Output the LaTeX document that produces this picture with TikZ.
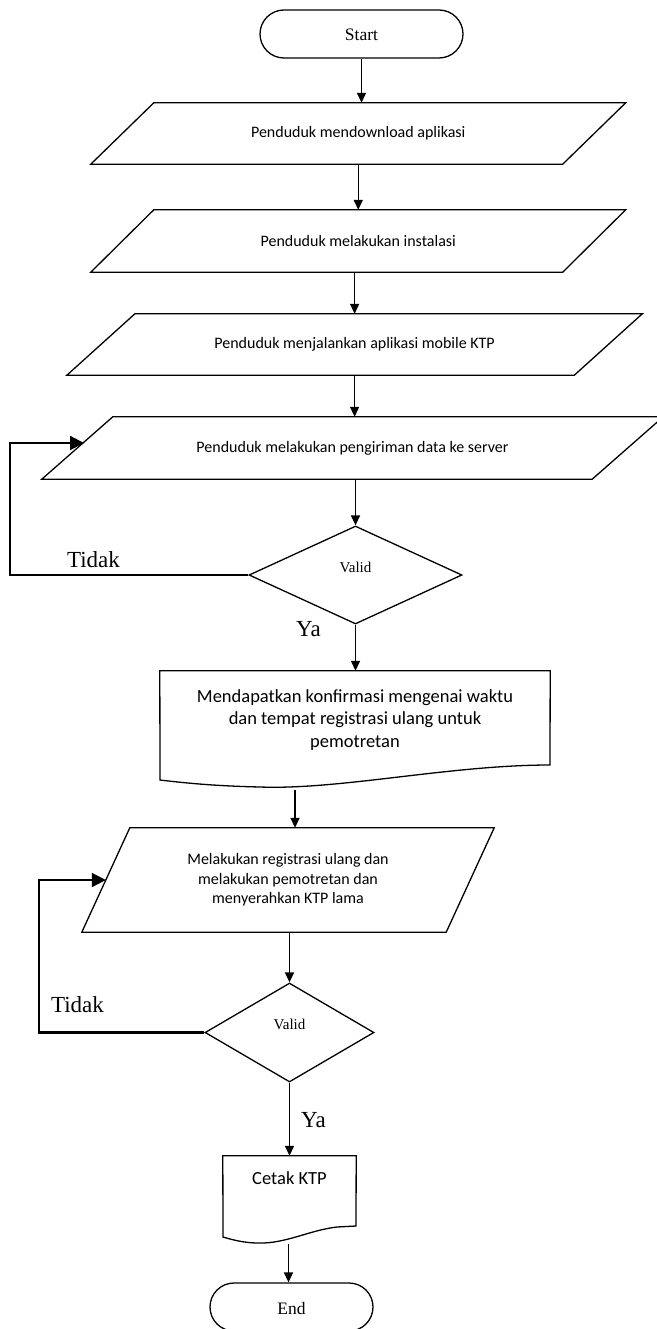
\documentclass[tikz,border=0pt]{standalone}
\usepackage{fontspec}
\setmainfont{Liberation Serif}
\newfontfamily\carlito{Carlito}
\usetikzlibrary{shapes.geometric,shapes.misc,arrows.meta,calc}
\newcommand{\ioframe}[2]{\draw[box] ($(#1.north west)+(#2,0)$) -- ($(#1.north east)+(#2,0)$) -- ($(#1.south east)+(-#2,0)$) -- ($(#1.south west)+(-#2,0)$) -- cycle;}

\begin{document}
\begin{tikzpicture}[x=1pt,y=-1pt,
    every node/.style={inner sep=0pt},
    box/.style={line width=1.3pt},
    term/.style={rounded rectangle,draw,box,minimum height=48pt,font=\fontsize{17.5}{20}\selectfont,text height=16pt,text depth=2pt},
    io/.style={align=center,font={\carlito\fontsize{16}{19.5}\selectfont}},
    decision/.style={diamond,draw,box,font=\fontsize{15}{18}\selectfont,text height=11pt,text depth=17pt},
    docbox/.style={align=center,font={\carlito\fontsize{18.5}{22.5}\selectfont}},
    lbl/.style={font=\fontsize{23}{27}\selectfont},
    arr/.style={line width=1.5pt,-{Triangle[length=10pt,width=9pt]}},
    backarr/.style={line width=2.2pt,-{Triangle[length=14pt,width=14pt]}}]
    \useasboundingbox (0,0) rectangle (656,1329);
    \fill[white] (0,0) rectangle (656,1329);

    \node[term,minimum width=203pt] (start) at (361.5,34) {Start};
    \node[io,minimum width=471.5pt,minimum height=61pt] (p1) at (358.25,133.5) {Penduduk mendownload aplikasi};
    \node[io,minimum width=471.5pt,minimum height=62pt] (p2) at (358.25,241) {Penduduk melakukan instalasi};
    \node[io,minimum width=507pt,minimum height=61pt] (p3) at (354.6,344.5) {Penduduk menjalankan aplikasi mobile KTP};
    \node[io,minimum width=550pt,minimum height=62pt] (p4) at (352.5,448) {Penduduk melakukan pengiriman data ke server};
    \node[decision,minimum width=213pt,minimum height=98pt] (dv1) at (355.5,575) {Valid};
    \node[docbox,minimum width=390pt,minimum height=98pt] (docA) at (355,720) {Mendapatkan konfirmasi mengenai waktu\\dan tempat registrasi ulang untuk\\pemotretan};
    \node[io,minimum width=364pt,minimum height=104pt] (p5) at (288,880) {Melakukan registrasi ulang dan\\melakukan pemotretan dan\\menyerahkan KTP lama};
    \node[decision,minimum width=169pt,minimum height=99pt] (dv2) at (289.5,1032.5) {Valid};
    \node[docbox,minimum width=133pt,minimum height=45pt] (docB) at (289.5,1178.5) {Cetak KTP};
    \node[term,minimum width=163pt] (stop) at (291.5,1307) {End};

    \ioframe{p1}{31.5}
    \ioframe{p2}{31.5}
    \ioframe{p3}{34}
    \ioframe{p4}{35.5}
    \ioframe{p5}{24}
    \draw[box] (docA.north west) -- (docA.north east) -- (550,765) .. controls (450,765) and (340,790) .. (260,787) .. controls (215,786) and (185,783) .. (160,780) -- cycle;
    \draw[box] (docB.north west) -- (docB.north east) -- (356,1226) -- (337,1227) .. controls (310,1230) and (285,1244) .. (258,1243) .. controls (245,1243) and (233,1240) .. (223,1237) -- cycle;

    \coordinate (docAfoot) at (295,790);
    \coordinate (docBfoot) at (288.5,1244);
    \coordinate (p4in) at (84,443);

    \draw[arr] (start.south) -- (start.south |- p1.north);
    \draw[arr] (p1.south) -- (p2.north);
    \draw[arr] (p3.north |- p2.south) -- (p3.north);
    \draw[arr] (p3.south) -- (p3.south |- p4.north);
    \draw[arr] (dv1.north |- p4.south) -- (dv1.north);
    \draw[arr] (dv1.south) -- (dv1.south |- docA.north);
    \draw[arr] (docAfoot) -- (docAfoot |- p5.north);
    \draw[arr] (dv2.north |- p5.south) -- (dv2.north);
    \draw[arr] (dv2.south) -- (dv2.south |- docB.north);
    \draw[arr] (docBfoot) -- (docBfoot |- stop.north);

    \draw[backarr] (dv1.west) -- ++(-238,0) |- (p4in);
    \draw[backarr] (dv2.west) -- ++(-165,0) |- (p5.west);

    \node[lbl] (no1) at (93.5,560) {Tidak};
    \node[lbl] (yes1) at (308.5,629.5) {Ya};
    \node[lbl] (no2) at (77.5,1005) {Tidak};
    \node[lbl] (yes2) at (313.5,1120.5) {Ya};
\end{tikzpicture}
\end{document}
